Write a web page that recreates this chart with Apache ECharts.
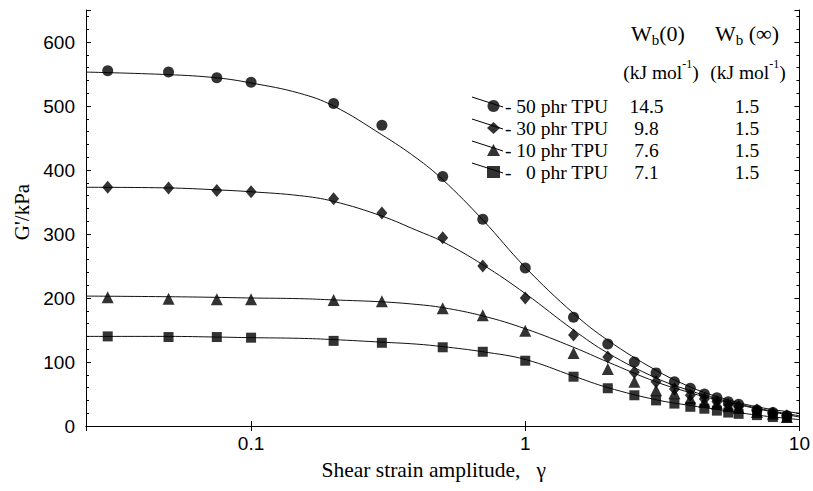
<!DOCTYPE html>
<html><head><meta charset="utf-8">
<script src="https://cdn.jsdelivr.net/npm/echarts@6/dist/echarts.min.js"></script>
<style>html,body{margin:0;padding:0;background:#fff}#c{width:813px;height:491px}</style>
</head><body><div id="c"></div>
<script>
// ---- data ----
const strain = [0.03,0.05,0.075,0.1,0.2,0.3,0.5,0.7,1,1.5,2,2.5,3,3.5,4,4.5,5,5.5,6,7,8,9];
const g50 = [555,553,544,537,504,470,390,323,247,170,128,100,83,69,59,50,44,38,34,25,21,16];
const g30 = [373,372,368,366,355,333,294,250,200,142,108,84,69,58,48,42,38,33,30,25,20,16];
const g10 = [201,199,198,198,197,195,184,173,149,114,89,69,56,51,43,38,35,31,28,22,19,14];
const g0  = [140,139,139,138,133,130,123,116,102,77,59,48,40,35,30,27,24,21,19,17,14,13];

const fitX   = [0.025,0.05,0.075,0.1,0.15,0.2,0.3,0.4,0.5,0.7,1,1.5,2,3,4,5,7,10];
const fit50  = [553,549,544,536,520,500,455,419,385,322,248,176,134,87,61,46,30,20];
const fit30  = [373,372,369,366,360,351,328,306,288,252,207,150,114,75,55,43,28,16];
const fit10  = [203,202,201,200,199,197,194,190,185,172,152,123,100,69,52,41,27,14];
const fit0   = [140,140,139,138,137,135,131,128,124,116,104,78,60,41,32,26,17,10];

const seriesNames = ['- 50 phr TPU','- 30 phr TPU','- 10 phr TPU','-\u00a0\u00a0 0 phr TPU'];
const symbols = ['circle','diamond','triangle','rect'];
const symbolSizes = [11,[11,13],12,10];
const wb0   = ['14.5','9.8','7.6','7.1'];
const wbInf = ['1.5','1.5','1.5','1.5'];

const xTicks = [0.1,1,10];
const yTicks = [0,100,200,300,400,500,600];

// ---- chart ----
const SERIF = "'Liberation Serif','Times New Roman',serif";
const SANS = "'Liberation Sans',Arial,sans-serif";
const chart = echarts.init(document.getElementById('c'), null, {renderer:'svg'});

const pts = [g50,g30,g10,g0];
const fits = [fit50,fit30,fit10,fit0];
const series = [];
fits.forEach((f,i)=>{
  series.push({type:'line', data: fitX.map((x,j)=>[x,f[j]]), smooth:0.4, showSymbol:false,
    lineStyle:{color:'#111',width:1}, z:2, silent:true});
});
pts.forEach((p,i)=>{
  series.push({type:'scatter', name: seriesNames[i], data: strain.map((x,j)=>[x,p[j]]),
    symbol: symbols[i], symbolSize: symbolSizes[i], itemStyle:{color:'#000'}, z:3});
});

const axisCommon = {
  axisLine:{show:true, lineStyle:{color:'#000',width:1}},
  axisTick:{show:true, inside:true, length:5, lineStyle:{color:'#000'}},
  splitLine:{show:false}
};

const legendTop = 91, rowH = 22;
const graphics = [];
for (let i=0;i<4;i++){
  const cy = 102 + rowH*i;
  graphics.push({type:'line', shape:{x1:472,y1:cy-5,x2:503,y2:cy+5}, style:{stroke:'#000',lineWidth:1}, z:1});
}
const hdrRich = {
  w:{fontFamily:SERIF,fontSize:22,lineHeight:28,verticalAlign:'middle',fill:'#000'},
  s:{fontFamily:SERIF,fontSize:15,lineHeight:15,verticalAlign:'bottom',fill:'#000'},
  k:{fontFamily:SERIF,fontSize:19.5,lineHeight:28,verticalAlign:'middle',fill:'#000'},
  p:{fontFamily:SERIF,fontSize:12,lineHeight:12,verticalAlign:'top',fill:'#000'}
};
graphics.push({type:'text', x:658, y:33, style:{text:'{w|W}{s|b}{w|(0)}', rich:hdrRich, textAlign:'center', textVerticalAlign:'middle'}});
graphics.push({type:'text', x:747, y:33, style:{text:'{w|W}{s|b}{w|\u00a0(\u221e)}', rich:hdrRich, textAlign:'center', textVerticalAlign:'middle'}});
graphics.push({type:'text', x:661, y:72, style:{text:'{k|(kJ mol}{p|-1}{k|)}', rich:hdrRich, textAlign:'center', textVerticalAlign:'middle'}});
graphics.push({type:'text', x:748, y:72, style:{text:'{k|(kJ mol}{p|-1}{k|)}', rich:hdrRich, textAlign:'center', textVerticalAlign:'middle'}});

const lf = {fontFamily:SERIF,fontSize:19.5,color:'#000',lineHeight:20};
chart.setOption({
  animation:false,
  backgroundColor:'#fff',
  grid:{left:86,right:10,top:10,bottom:65,containLabel:false},
  xAxis:[
    Object.assign({type:'log', logBase:10, min:0.025, max:10, position:'bottom',
      axisLabel:{fontFamily:SANS,fontSize:19,color:'#000',margin:8,
        formatter:v=>{const r=+(+v).toPrecision(3);return xTicks.includes(r)?String(r):'';}},
      name:'Shear strain amplitude,\u00a0\u00a0\u00a0\u03b3', nameLocation:'middle', nameGap:33,
      nameTextStyle:{fontFamily:SERIF,fontSize:21.5,color:'#000',padding:[0,18,0,0]}}, axisCommon),
    Object.assign({type:'log', logBase:10, min:0.025, max:10, position:'top', axisLabel:{show:false}}, axisCommon)
  ],
  yAxis:[
    Object.assign({type:'value', min:0, max:650, interval:100, position:'left',
      minorTick:{show:true, splitNumber:5, length:3, lineStyle:{color:'#000'}},
      axisLabel:{fontFamily:SANS,fontSize:19,color:'#000',margin:11,
        formatter:v=>yTicks.includes(v)?String(v):''},
      name:"G'/kPa", nameLocation:'middle', nameGap:46, nameRotate:90,
      nameTextStyle:{fontFamily:SERIF,fontSize:21,color:'#000',padding:[0,0,0,12]}}, axisCommon),
    Object.assign({type:'value', min:0, max:650, interval:100, position:'right',
      minorTick:{show:true, splitNumber:5, length:3, lineStyle:{color:'#000'}},
      axisLabel:{show:false}}, axisCommon)
  ],
  legend:{
    orient:'vertical', left:482, top:legendTop, itemWidth:13, itemHeight:12, itemGap:2,
    selectedMode:false, data: seriesNames,
    formatter: name => { const i = seriesNames.indexOf(name);
      return '{a|'+name+'}{b|'+wb0[i]+'}{c|'+wbInf[i]+'}'; },
    textStyle:Object.assign({}, lf, {
      rich:{
        a:Object.assign({width:110,align:'left'}, lf),
        b:Object.assign({width:63,align:'right'}, lf),
        c:Object.assign({width:138,align:'center'}, lf)
      }})
  },
  graphic: graphics,
  series: series
});
</script></body></html>
